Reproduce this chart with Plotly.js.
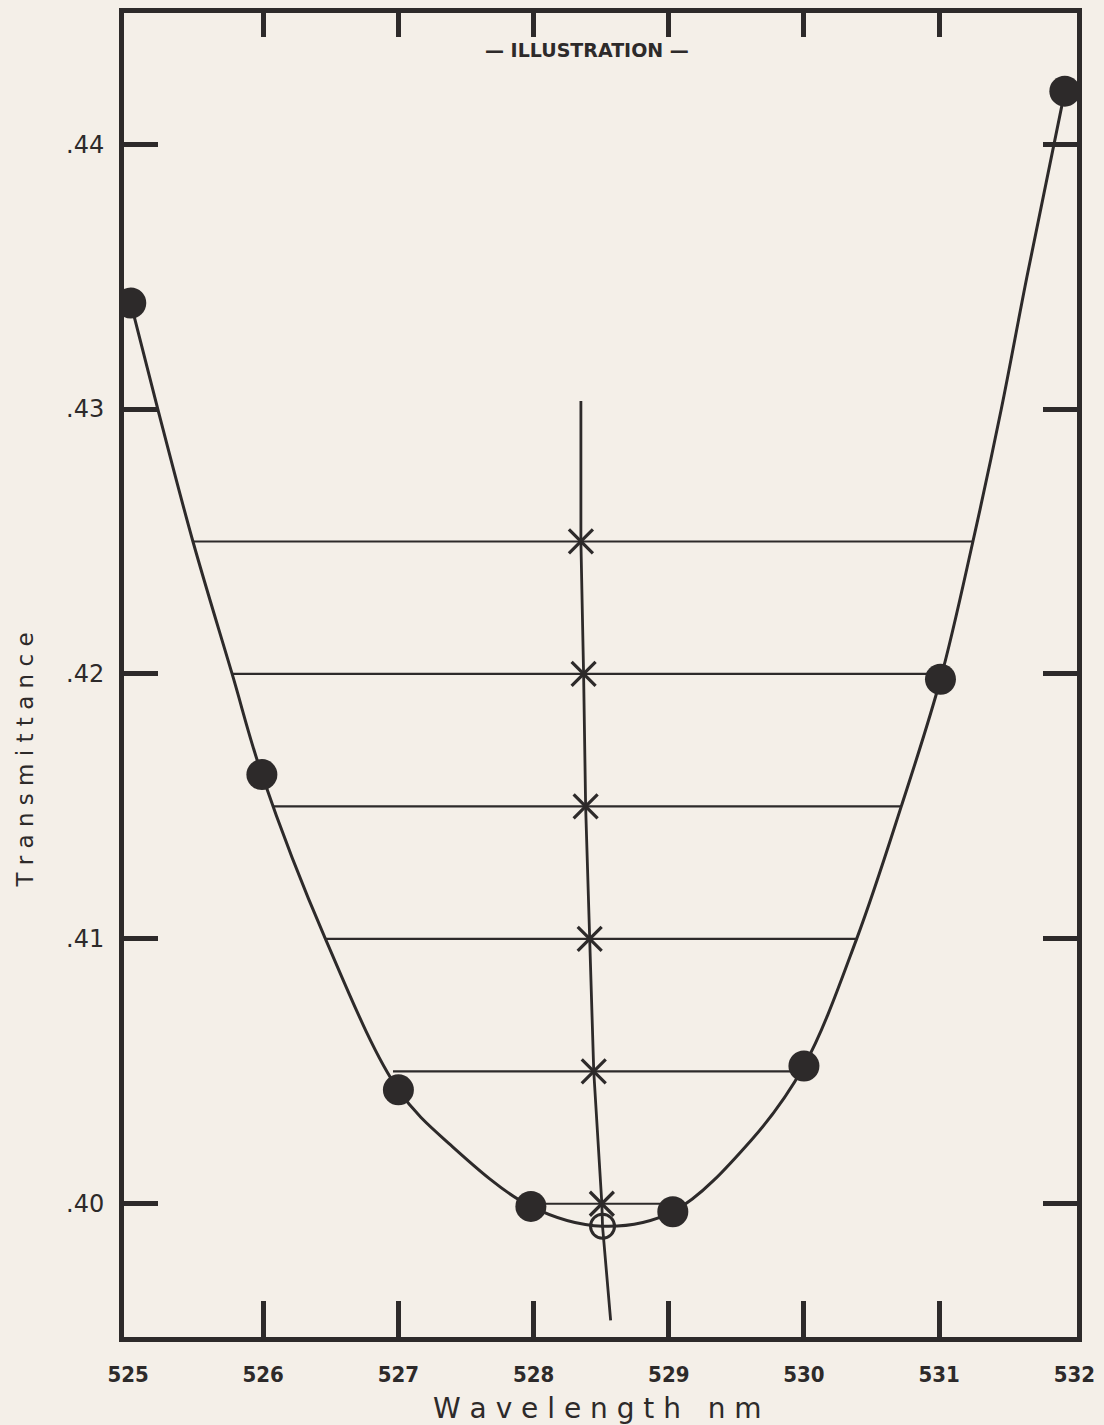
<!DOCTYPE html>
<html>
<head>
<meta charset="utf-8">
<script src="https://cdn.plot.ly/plotly-3.0.1.min.js"></script>
<style>
  html, body { margin: 0; padding: 0; background: #f4efe8; }
  #chart { width: 1104px; height: 1425px; }
</style>
</head>
<body>
<div id="chart"></div>
<script>
// measured transmittance (filled circles)
const pointX = [525.02, 525.99, 527.00, 527.98, 529.03, 530.00, 531.01, 531.93];
const pointY = [0.4340, 0.4162, 0.4043, 0.3999, 0.3997, 0.4052, 0.4198, 0.4420];

// smooth curve
const curveX = [525.02, 525.22, 525.48, 525.77, 525.99, 526.46, 527.00, 527.39, 527.98, 528.51,
                529.03, 529.61, 530.00, 530.39, 530.72, 531.01, 531.25, 531.46, 531.65, 531.93];
const curveY = [0.4340, 0.4300, 0.4250, 0.4200, 0.4162, 0.4100, 0.4043, 0.4022, 0.3999, 0.39915,
                0.3997, 0.4024, 0.4052, 0.4100, 0.4150, 0.4198, 0.4250, 0.4300, 0.4350, 0.4420];

// horizontal chords and their ends on the curve
const chordLevels = [0.425, 0.420, 0.415, 0.410, 0.405, 0.400];
const chordLeft  = [525.48, 525.77, 526.07, 526.46, 526.96, 527.98];
const chordRight = [531.25, 530.95, 530.72, 530.39, 529.95, 529.03];

// chord midpoints (asterisks)
const midX = [528.350, 528.370, 528.385, 528.415, 528.445, 528.505];

// line through the midpoints
const bisectX = [528.350, 528.350, 528.370, 528.385, 528.415, 528.445, 528.505, 528.510, 528.570];
const bisectY = [0.4303, 0.4250, 0.4200, 0.4150, 0.4100, 0.4050, 0.4000, 0.39915, 0.3956];

// extrapolated minimum (open circle)
const minX = [528.51];
const minY = [0.39915];

const xTicks = [525, 526, 527, 528, 529, 530, 531, 532];
const yTicks = [0.40, 0.41, 0.42, 0.43, 0.44];
const yTickText = ['.40', '.41', '.42', '.43', '.44'];

const ink = '#2d2a2a';
const paper = '#f4efe8';
const xRange = [524.97, 532.02];
const innerTicks = xTicks.slice(1, -1);

const chordX = [];
const chordY = [];
chordLevels.forEach((lv, i) => {
    chordX.push(chordLeft[i], chordRight[i], null);
    chordY.push(lv, lv, null);
});

const traces = [
    {
        x: chordX, y: chordY, type: 'scatter', mode: 'lines',
        line: { color: ink, width: 2.2 }
    },
    {
        x: curveX, y: curveY, type: 'scatter', mode: 'lines',
        line: { color: ink, width: 3, shape: 'spline', smoothing: 1 }
    },
    {
        x: bisectX, y: bisectY, type: 'scatter', mode: 'lines',
        line: { color: ink, width: 2.8 }
    },
    {
        x: midX, y: chordLevels, type: 'scatter', mode: 'markers',
        marker: { symbol: 'x-thin-open', size: 24, color: ink, line: { color: ink, width: 3.2 } }
    },
    {
        x: pointX, y: pointY, type: 'scatter', mode: 'markers',
        marker: { symbol: 'circle', size: 31, color: ink, line: { width: 0 } }
    },
    {
        x: minX, y: minY, type: 'scatter', mode: 'markers',
        marker: { symbol: 'circle-open', size: 24, color: ink, line: { color: ink, width: 3 } }
    },
    // empty traces that carry the top and bottom tick marks
    { x: [], y: [], type: 'scatter', xaxis: 'x2', yaxis: 'y' },
    { x: [], y: [], type: 'scatter', xaxis: 'x3', yaxis: 'y' }
];

const tickAxis = (side, len) => ({
    overlaying: 'x', matches: 'x', side: side, anchor: 'y',
    range: xRange,
    tickvals: innerTicks,
    ticks: 'inside', ticklen: len, tickwidth: 5, tickcolor: ink,
    showticklabels: false, showline: false, showgrid: false, zeroline: false
});

const layout = {
    width: 1104,
    height: 1425,
    margin: { l: 124, r: 27, t: 13, b: 88 },
    paper_bgcolor: paper,
    plot_bgcolor: paper,
    showlegend: false,
    xaxis: {
        range: xRange,
        tickvals: xTicks,
        ticktext: xTicks.map(String),
        ticks: '',
        ticklabelstandoff: 14,
        showline: true, linewidth: 5, linecolor: ink, mirror: true,
        showgrid: false, zeroline: false,
        tickfont: { family: 'DejaVu Sans Condensed, DejaVu Sans, sans-serif', size: 22, weight: 'bold', color: ink }
    },
    xaxis2: tickAxis('top', 24),
    xaxis3: tickAxis('bottom', 36),
    yaxis: {
        range: [0.39497, 0.44495],
        tickvals: yTicks,
        ticktext: yTickText,
        ticks: 'inside', ticklen: 34, tickwidth: 5, tickcolor: ink,
        ticklabelstandoff: 10,
        showline: true, linewidth: 5, linecolor: ink, mirror: 'ticks',
        showgrid: false, zeroline: false,
        tickfont: { family: 'DejaVu Sans, sans-serif', size: 24, color: ink }
    },
    annotations: [
        {
            text: '— ILLUSTRATION —', xref: 'paper', yref: 'paper',
            x: 0.486, y: 0.972, xanchor: 'center', yanchor: 'middle', showarrow: false,
            font: { family: 'DejaVu Sans, sans-serif', size: 19, weight: 'bold', color: ink }
        },
        {
            text: 'W a v e l e n g t h &nbsp; n m', xref: 'paper', yref: 'paper',
            x: 0.497, y: -0.054, xanchor: 'center', yanchor: 'middle', showarrow: false,
            font: { family: 'DejaVu Sans, sans-serif', size: 28, color: ink }
        },
        {
            text: 'T r a n s m i t t a n c e', xref: 'paper', yref: 'paper',
            x: -0.104, y: 0.436, xanchor: 'center', yanchor: 'middle', textangle: -90, showarrow: false,
            font: { family: 'DejaVu Sans, sans-serif', size: 23, color: ink }
        }
    ]
};

Plotly.newPlot('chart', traces, layout, { staticPlot: true });
</script>
</body>
</html>
